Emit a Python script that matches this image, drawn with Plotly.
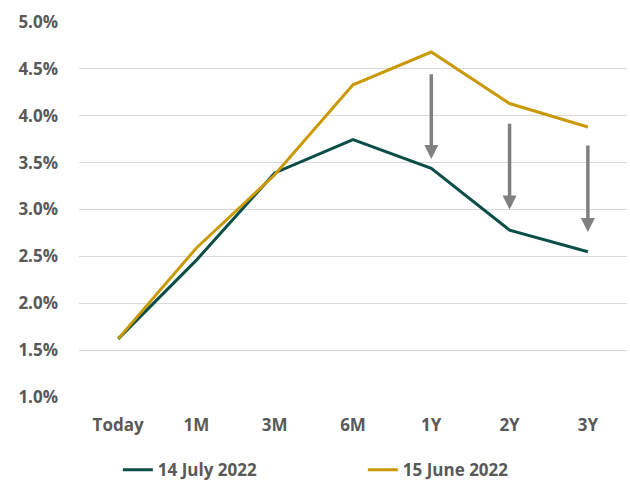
import plotly.graph_objects as go

tenors = ["Today", "1M", "3M", "6M", "1Y", "2Y", "3Y"]
july_2022 = [1.62, 2.46, 3.39, 3.745, 3.44, 2.78, 2.55]
june_2022 = [1.62, 2.59, 3.37, 4.33, 4.68, 4.13, 3.88]

arrow_tenors = ["1Y", "2Y", "3Y"]
arrow_from = [4.46, 3.93, 3.70]
arrow_to = [3.54, 3.00, 2.76]

GREEN = "#0b4d47"
GOLD = "#c99a06"
TXT = "#595959"
FONT = "Open Sans"
FS = 17

fig = go.Figure()
fig.add_trace(go.Scatter(x=tenors, y=july_2022, mode="lines", name="14 July 2022",
                         line=dict(color=GREEN, width=3)))
fig.add_trace(go.Scatter(x=tenors, y=june_2022, mode="lines", name="15 June 2022",
                         line=dict(color=GOLD, width=3)))

for t, a, b in zip(arrow_tenors, arrow_from, arrow_to):
    fig.add_annotation(x=t, y=b, ax=t, ay=a, xref="x", yref="y", axref="x", ayref="y",
                       showarrow=True, arrowhead=2, arrowsize=0.8, arrowwidth=3.5,
                       arrowcolor="#808080", text="")

fig.update_layout(
    width=630, height=485,
    margin=dict(l=79, r=3, t=22, b=88, autoexpand=False),
    plot_bgcolor="white", paper_bgcolor="white",
    font=dict(family=FONT, size=FS, color=TXT),
    showlegend=True,
    legend=dict(orientation="h", x=0.518, xanchor="center", y=-0.195, yanchor="middle",
                entrywidth=200, entrywidthmode="pixels",
                font=dict(family=FONT, size=FS, color=TXT, weight="bold")),
)
fig.update_xaxes(range=[-0.5, 6.5], showgrid=False, zeroline=False, showline=False, ticks="",
                 tickfont=dict(family=FONT, size=FS, color=TXT, weight="bold"),
                 ticklabelstandoff=16, automargin=False)
fig.update_yaxes(range=[1.0, 5.0], dtick=0.5, tickformat=".1f", ticksuffix="%",
                 showgrid=True, gridcolor="#d9d9d9", gridwidth=1, zeroline=False,
                 showline=False, ticks="",
                 tickfont=dict(family=FONT, size=FS, color=TXT, weight="bold"),
                 ticklabelstandoff=20, automargin=False)

fig.write_html("out.html")
